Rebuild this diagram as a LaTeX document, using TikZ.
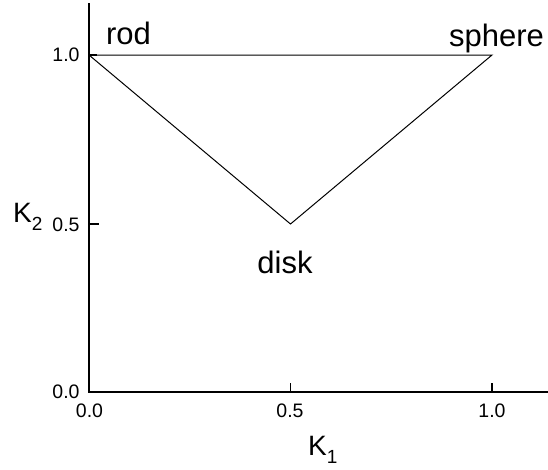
\documentclass[tikz,border=0pt]{standalone}
\usepackage{fontspec}
\setmainfont{Liberation Sans}
\newcommand{\mysub}[1]{\raisebox{-0.32em}{\fontsize{19}{20}\selectfont #1}}
\begin{document}
\begin{tikzpicture}[x=1pt,y=-1pt,
  axis/.style={line width=1.8pt,line cap=rect},
  curve/.style={line width=1pt},
  tick/.style={line width=1.3pt},
  lbl/.style={font=\fontsize{31}{32}\selectfont,inner sep=0pt,anchor=base},
  num/.style={font=\fontsize{19.5}{20}\selectfont,inner sep=0pt},
  axlbl/.style={font=\fontsize{28}{30}\selectfont,inner sep=0pt,anchor=base west}]
\useasboundingbox (0,0) rectangle (548,469);
% axes
\coordinate (top) at (89,4);
\coordinate (origin) at (89,392);
\coordinate (right) at (548,392);
\draw[axis] (top) -- (origin) -- (right);
% ticks
\coordinate (xt5) at (290.5,392);
\coordinate (xt10) at (492,392);
\coordinate (yt5) at (89,224);
\coordinate (yt10) at (89,55);
\draw[tick] (xt5) -- ++(0,-9);
\draw[tick] (xt10) -- ++(0,-9);
\draw[tick] (yt5) -- ++(10,0);
\draw[tick] (yt10) -- ++(8,0);
% triangle
\coordinate (rodpt) at (89,55);
\coordinate (spherept) at (492,55);
\coordinate (diskpt) at (290.5,224);
\draw[curve] (rodpt) -- (spherept) -- (diskpt) -- (rodpt);
% labels
\node[lbl] (rod) at (128.5,44) {rod};
\node[lbl] (sphere) at (496.5,46) {sphere};
\node[lbl] (disk) at (285,273) {disk};
% tick labels
\node[num] (y10) at (66,55) {1.0};
\node[num] (y5) at (66,225) {0.5};
\node[num] (y0) at (66,392) {0.0};
\node[num] (x0) at (89.5,411) {0.0};
\node[num] (x5) at (290,411) {0.5};
\node[num] (x10) at (492,411) {1.0};
% axis labels
\node[axlbl] (k2) at (13,222) {K\mysub{2}};
\node[axlbl] (k1) at (308,455) {K\mysub{1}};
\end{tikzpicture}
\end{document}
